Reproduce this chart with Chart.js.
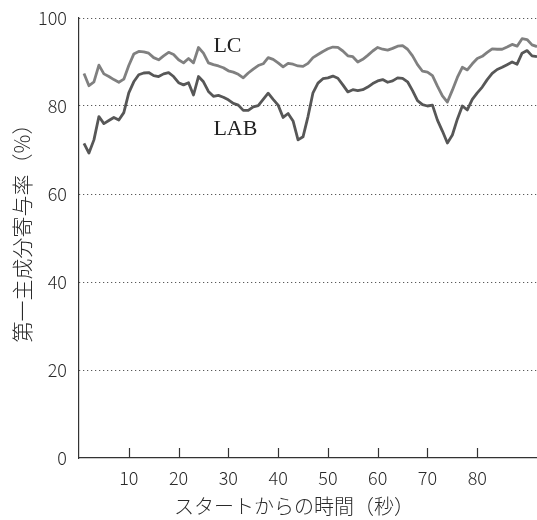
<!DOCTYPE html>
<html>
<head>
<meta charset="utf-8">
<script src="https://cdn.jsdelivr.net/npm/chart.js@4.4.1/dist/chart.umd.min.js"></script>
<style>
	body { margin: 0; background: #fff; }
	#wrap { width: 537px; height: 520px; position: relative; }
</style>
</head>
<body>
<div id="wrap"><canvas id="pcaChart"></canvas></div>
<script>
// seconds from start
var seconds = [];
for (var s = 1; s <= 92; s++) seconds.push(s);

var lcValues = [
	87.4, 84.6, 85.5, 89.3, 87.3, 86.7, 86.0, 85.4, 86.1, 89.2,
	91.8, 92.4, 92.3, 92.0, 91.0, 90.5, 91.4, 92.2, 91.7, 90.5,
	89.8, 90.8, 89.8, 93.3, 92.0, 89.8, 89.4, 89.1, 88.7, 88.0,
	87.7, 87.2, 86.4, 87.5, 88.4, 89.2, 89.6, 91.0, 90.6, 89.8,
	88.9, 89.7, 89.5, 89.1, 89.0, 89.7, 91.0, 91.7, 92.4, 93.0,
	93.4, 93.3, 92.5, 91.4, 91.2, 90.0, 90.6, 91.5, 92.5, 93.3,
	92.9, 92.7, 93.1, 93.6, 93.7, 92.9, 91.4, 89.4, 87.9, 87.7,
	86.9, 84.5, 82.3, 80.9, 83.6, 86.5, 88.8, 88.2, 89.6, 90.8,
	91.3, 92.2, 93.0, 92.9, 92.9, 93.4, 94.0, 93.6, 95.3, 95.1,
	93.9, 93.5
];

var labValues = [
	71.5, 69.3, 72.3, 77.6, 76.0, 76.7, 77.4, 76.8, 78.5, 83.0,
	85.5, 87.1, 87.5, 87.6, 86.9, 86.7, 87.3, 87.6, 86.7, 85.3,
	84.8, 85.3, 82.5, 86.7, 85.5, 83.3, 82.2, 82.4, 82.0, 81.4,
	80.6, 80.2, 79.0, 79.0, 79.8, 80.1, 81.5, 82.9, 81.5, 80.2,
	77.4, 78.3, 76.6, 72.3, 73.0, 77.6, 83.0, 85.2, 86.2, 86.4,
	86.8, 86.3, 84.8, 83.2, 83.7, 83.5, 83.7, 84.3, 85.1, 85.7,
	86.0, 85.4, 85.7, 86.4, 86.3, 85.5, 83.5, 81.2, 80.3, 80.0,
	80.2, 76.8, 74.3, 71.6, 73.4, 77.0, 80.0, 79.1, 81.5, 83.0,
	84.3, 86.0, 87.4, 88.3, 88.8, 89.4, 90.0, 89.5, 92.0, 92.6,
	91.4, 91.2
];

var xTickLabels = [10, 20, 30, 40, 50, 60, 70, 80];
var yTickLabels = [0, 20, 40, 60, 80, 100];

var xTitle = 'スタートからの時間（秒）';
var yTitle = '第一主成分寄与率（%）';
var seriesNames = ['LC', 'LAB'];

function toPoints(vals) {
	return vals.map(function (v, i) { return { x: seconds[i], y: v }; });
}

var sansFont = '"Noto Sans CJK JP", "Noto Sans", sans-serif';

// inward x ticks, axis titles and the LC / LAB tags
var decorPlugin = {
	id: 'decor',
	afterDraw: function (chart) {
		var ctx = chart.ctx;
		var xs = chart.scales.x, ys = chart.scales.y;
		var area = chart.chartArea;
		ctx.save();
		ctx.strokeStyle = '#333';
		ctx.lineWidth = 1.2;
		xTickLabels.forEach(function (t) {
			var px = Math.round(xs.getPixelForValue(t)) + 0.5;
			ctx.beginPath();
			ctx.moveTo(px, area.bottom);
			ctx.lineTo(px, area.bottom - 10);
			ctx.stroke();
		});

		ctx.fillStyle = '#2a2a2a';
		ctx.font = '300 20px ' + sansFont;
		ctx.textAlign = 'center';
		ctx.textBaseline = 'middle';
		ctx.fillText(xTitle, 294, 506);

		ctx.save();
		ctx.translate(22, 228);
		ctx.rotate(-Math.PI / 2);
		ctx.font = '300 21px ' + sansFont;
		ctx.fillText(yTitle, 0, 0);
		ctx.restore();

		ctx.fillStyle = '#222';
		ctx.font = '22px "Liberation Serif", "Times New Roman", serif';
		ctx.textAlign = 'left';
		ctx.textBaseline = 'alphabetic';
		ctx.fillText(seriesNames[0], xs.getPixelForValue(27), ys.getPixelForValue(92.3));
		ctx.fillText(seriesNames[1], xs.getPixelForValue(27), ys.getPixelForValue(73.3));
		ctx.restore();
	}
};

function loadPcaChart() {
	var ctx = document.getElementById('pcaChart');
	new Chart(ctx, {
		type: 'line',
		data: {
			datasets: [{
				label: seriesNames[0],
				data: toPoints(lcValues),
				borderColor: '#808080',
				borderWidth: 2.8,
				pointRadius: 0,
				tension: 0,
				borderJoinStyle: 'round'
			}, {
				label: seriesNames[1],
				data: toPoints(labValues),
				borderColor: '#575757',
				borderWidth: 2.8,
				pointRadius: 0,
				tension: 0,
				borderJoinStyle: 'round'
			}]
		},
		options: {
			responsive: true,
			maintainAspectRatio: false,
			animation: false,
			layout: { padding: { top: 18, right: 0, left: 0, bottom: 0 } },
			plugins: {
				legend: { display: false },
				tooltip: { enabled: false }
			},
			scales: {
				x: {
					type: 'linear',
					min: 0,
					max: 92,
					afterBuildTicks: function (scale) {
						scale.ticks = xTickLabels.map(function (v) { return { value: v }; });
					},
					afterFit: function (scale) { scale.height = 62; },
					grid: { display: false, drawTicks: false },
					border: { display: true, color: '#333', width: 1.2 },
					ticks: {
						padding: 9,
						maxRotation: 0,
						color: '#2a2a2a',
						font: { family: sansFont, size: 18, weight: '300' }
					}
				},
				y: {
					min: 0,
					max: 100,
					afterBuildTicks: function (scale) {
						scale.ticks = yTickLabels.map(function (v) { return { value: v }; });
					},
					afterFit: function (scale) {
						scale.width = 79;
						scale.paddingTop = 0;
						scale.paddingBottom = 0;
					},
					grid: {
						color: function (c) { return c.tick && c.tick.value === 0 ? 'rgba(0,0,0,0)' : '#333'; },
						lineWidth: 1,
						drawTicks: false
					},
					border: { display: true, color: '#333', width: 1.2, dash: [1, 3] },
					ticks: {
						padding: 12,
						color: '#2a2a2a',
						font: { family: sansFont, size: 18, weight: '300' }
					}
				}
			}
		},
		plugins: [decorPlugin]
	});
}
window.addEventListener('load', function () { loadPcaChart(); });
</script>
</body>
</html>
